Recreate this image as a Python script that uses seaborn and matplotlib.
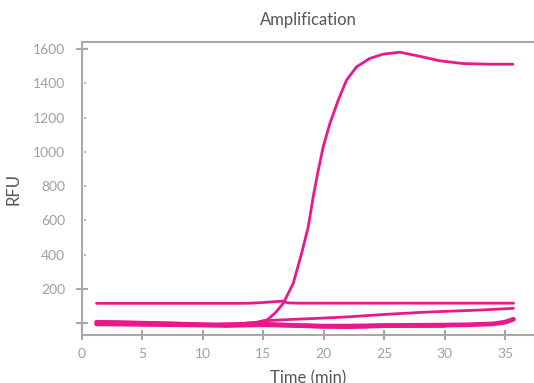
import matplotlib
matplotlib.use("Agg")
import matplotlib.pyplot as plt
import seaborn as sns
import pandas as pd

# ---- data ----
sig_t = [1.2, 3, 5, 7, 9, 11, 13, 14, 14.6, 15.3, 16, 16.65, 17.48, 18.17, 18.72, 19.13, 19.55,
         19.96, 20.51, 21.2, 21.89, 22.72, 23.82, 24.92, 26.3, 27.96, 29.6, 31.5, 33.7, 35.65]
sig_v = [8, 6, 3, 0, -4, -8, -4, 0, 5, 17, 60, 115, 232, 407, 562, 738, 893,
         1030, 1166, 1302, 1419, 1497, 1546, 1571, 1582, 1558, 1532, 1516, 1512, 1512]

flat_t = [1.2, 5, 10, 13, 14, 15, 16, 16.6, 17, 18, 20, 25, 30, 35.7]
flat_v = [115, 115, 115, 115, 116, 120, 125, 128, 118, 116, 116, 116, 116, 116]

rise_t = [1.2, 5, 10, 13, 14.5, 15, 17, 20, 22, 25, 28, 30, 33, 35.7]
rise_v = [0, -2, -8, -4, 5, 13, 20, 29, 36, 50, 62, 68, 76, 86]

baseA_t = [1.2, 3, 5, 8, 10, 12, 15, 18, 20, 22, 25, 28, 30, 32, 34, 35, 35.7]
baseA_v = [-5, -6, -8, -10, -12, -14, -10, -15, -18, -18, -15, -13, -12, -10, -5, 5, 22]

baseB_t = [1.2, 3, 5, 8, 10, 12, 15, 18, 20, 22, 25, 28, 30]
baseB_v = [5, 3, 0, -5, -10, -12, -6, -15, -20, -22, -16, -15, -15]

x_ticks = [0, 5, 10, 15, 20, 25, 30, 35]
y_ticks = [0, 200, 400, 600, 800, 1000, 1200, 1400, 1600]
y_ticklabels = ["", "200", "400", "600", "800", "1000", "1200", "1400", "1600"]
y_cross_ticks = [0, 200, 1600]

series = {"s1": (sig_t, sig_v), "s2": (flat_t, flat_v), "s3": (rise_t, rise_v),
          "s4": (baseA_t, baseA_v), "s5": (baseB_t, baseB_v)}

rows = []
for name, (t, v) in series.items():
    for a, b in zip(t, v):
        rows.append({"Time": a, "RFU": b, "well": name})
df = pd.DataFrame(rows)

sns.set_style("white")
plt.rcParams["font.family"] = ["Lato", "DejaVu Sans"]

gray = "#a8a8a8"
pink = "#E8198B"
fig = plt.figure(figsize=(5.34, 3.83), dpi=100)
ax = fig.add_axes([0.1536, 0.1253, 0.8464, 0.7647])

widths = {"s1": 2.0, "s2": 2.0, "s3": 2.0, "s4": 3.4, "s5": 3.2}
for name in series:
    sub = df[df.well == name]
    sns.lineplot(data=sub, x="Time", y="RFU", ax=ax, color=pink, lw=widths[name],
                 estimator=None, sort=False, legend=False)

ax.set_xlim(0, 37.4)
ax.set_ylim(-70, 1641)

ax.set_xlabel("Time (min)", fontsize=12, color="#555555", labelpad=8)
ax.set_ylabel("RFU", fontsize=12, color="#555555", labelpad=8)
ax.set_title("Amplification", fontsize=12, color="#555555", pad=12)

for s in ["left", "bottom", "top"]:
    ax.spines[s].set_edgecolor(gray)
    ax.spines[s].set_linewidth(1.5)
ax.spines["right"].set_visible(False)

ax.set_xticks(x_ticks)
ax.set_yticks(y_ticks)
ax.set_yticklabels(y_ticklabels)
ax.tick_params(axis="x", which="major", length=0, labelcolor="#a0a0a0", labelsize=10, pad=9)
ax.tick_params(axis="y", which="major", length=0, labelcolor="#a0a0a0", labelsize=10, pad=12)

# tick marks drawn in axis coordinates
ax.vlines(x_ticks, -0.017, 0.017, transform=ax.get_xaxis_transform(), colors=gray,
          lw=1.5, clip_on=False, zorder=5)
ax.hlines(y_cross_ticks, -0.013, 0.013, transform=ax.get_yaxis_transform(), colors=gray,
          lw=1.5, clip_on=False, zorder=5)
ax.hlines([v for v in y_ticks if v not in y_cross_ticks], 0.004, 0.008,
          transform=ax.get_yaxis_transform(), colors=gray, lw=1.2, clip_on=False, zorder=5)

fig.savefig("out.png", dpi=100)
